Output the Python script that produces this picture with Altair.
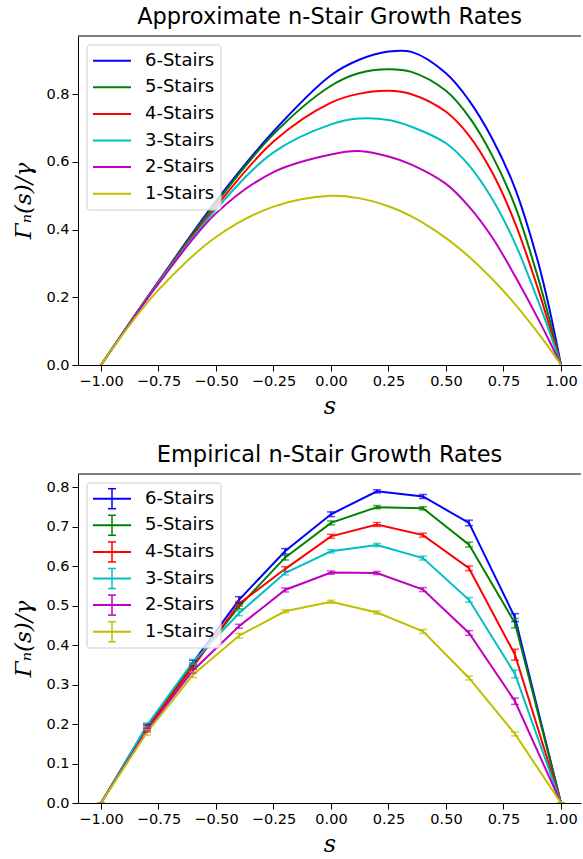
import altair as alt
import pandas as pd

# ---------------- data ----------------
labels = ["6-Stairs", "5-Stairs", "4-Stairs", "3-Stairs", "2-Stairs", "1-Stairs"]
colors = ["#0000ff", "#008000", "#ff0000", "#00bfbf", "#bf00bf", "#bfbf00"]

# Approximate growth rates
s_approx = [-1.0, -0.9, -0.75, -0.5, -0.25, 0.0, 0.12, 0.25, 0.35, 0.5, 0.6, 0.7, 0.8, 0.9, 0.95, 1.0]
approx_6 = [0, 0.100, 0.247, 0.484, 0.690, 0.856, 0.901, 0.926, 0.925, 0.862, 0.782, 0.670, 0.522, 0.305, 0.165, 0]
approx_5 = [0, 0.100, 0.246, 0.478, 0.682, 0.825, 0.862, 0.874, 0.866, 0.810, 0.733, 0.620, 0.470, 0.258, 0.135, 0]
approx_4 = [0, 0.099, 0.245, 0.468, 0.660, 0.775, 0.801, 0.810, 0.800, 0.748, 0.678, 0.570, 0.420, 0.225, 0.115, 0]
approx_3 = [0, 0.099, 0.243, 0.460, 0.628, 0.711, 0.728, 0.724, 0.704, 0.655, 0.590, 0.492, 0.360, 0.190, 0.098, 0]
approx_2 = [0, 0.098, 0.240, 0.448, 0.570, 0.622, 0.632, 0.616, 0.592, 0.535, 0.468, 0.378, 0.263, 0.137, 0.070, 0]
approx_1 = [0, 0.096, 0.222, 0.378, 0.468, 0.500, 0.493, 0.469, 0.439, 0.375, 0.320, 0.255, 0.180, 0.095, 0.049, 0]

# Empirical growth rates with error bars
s_emp = [-1.0, -0.8, -0.6, -0.4, -0.2, 0.0, 0.2, 0.4, 0.6, 0.8, 1.0]
emp_6 = [0, 0.194, 0.356, 0.515, 0.638, 0.732, 0.790, 0.777, 0.710, 0.470, 0]
emp_5 = [0, 0.192, 0.350, 0.498, 0.622, 0.710, 0.750, 0.747, 0.655, 0.456, 0]
emp_4 = [0, 0.190, 0.345, 0.505, 0.593, 0.676, 0.706, 0.679, 0.595, 0.376, 0]
emp_3 = [0, 0.197, 0.358, 0.481, 0.583, 0.638, 0.654, 0.621, 0.515, 0.327, 0]
emp_2 = [0, 0.185, 0.336, 0.448, 0.540, 0.584, 0.583, 0.541, 0.431, 0.258, 0]
emp_1 = [0, 0.179, 0.325, 0.424, 0.486, 0.510, 0.483, 0.435, 0.317, 0.175, 0]
err_6 = [0, 0.006, 0.006, 0.008, 0.007, 0.006, 0.004, 0.005, 0.007, 0.010, 0]
err_5 = [0, 0.005, 0.005, 0.006, 0.006, 0.005, 0.004, 0.004, 0.006, 0.012, 0]
err_4 = [0, 0.006, 0.006, 0.006, 0.006, 0.005, 0.005, 0.005, 0.006, 0.014, 0]
err_3 = [0, 0.006, 0.006, 0.006, 0.005, 0.004, 0.004, 0.005, 0.006, 0.010, 0]
err_2 = [0, 0.005, 0.006, 0.005, 0.005, 0.004, 0.004, 0.005, 0.006, 0.008, 0]
err_1 = [0, 0.007, 0.007, 0.006, 0.004, 0.004, 0.004, 0.005, 0.005, 0.005, 0]

x_ticks = [-1.0, -0.75, -0.5, -0.25, 0.0, 0.25, 0.5, 0.75, 1.0]
y_ticks_top = [0.0, 0.2, 0.4, 0.6, 0.8]
y_ticks_bot = [0.0, 0.1, 0.2, 0.3, 0.4, 0.5, 0.6, 0.7, 0.8]

# ---------------- tables ----------------
approx_series = [approx_6, approx_5, approx_4, approx_3, approx_2, approx_1]
emp_series = [emp_6, emp_5, emp_4, emp_3, emp_2, emp_1]
err_series = [err_6, err_5, err_4, err_3, err_2, err_1]

rows = []
for lab, vals in zip(labels, approx_series):
    for s, v in zip(s_approx, vals):
        rows.append({"series": lab, "s": s, "v": v})
df_approx = pd.DataFrame(rows)

rows, caps = [], []
for lab, vals, errs in zip(labels, emp_series, err_series):
    for s, v, e in zip(s_emp, vals, errs):
        rows.append({"series": lab, "s": s, "v": v, "lo": v - e, "hi": v + e})
        caps.append({"series": lab, "s": s, "c": v - e})
        caps.append({"series": lab, "s": s, "c": v + e})
df_emp = pd.DataFrame(rows)
df_caps = pd.DataFrame(caps)

W, H = 503, 329
FONT = "DejaVu Sans"
color = alt.Color("series:N", scale=alt.Scale(domain=labels, range=colors), legend=None)
xscale = alt.Scale(domain=[-1.1, 1.087], nice=False, zero=False)


def x_axis():
    return alt.Axis(values=x_ticks, format=".2f", title="s", titleFont="DejaVu Serif",
                    titleFontStyle="italic", titleFontWeight="normal", titleFontSize=24,
                    titlePadding=7, labelFontSize=14.5, labelPadding=3, tickSize=6,
                    labelFlush=False, grid=False)


def y_axis(vals):
    return alt.Axis(values=vals, format=".1f", title="Γₙ(s)/γ", titleFont="DejaVu Serif",
                    titleFontStyle="italic", titleFontWeight="normal", titleFontSize=23,
                    titlePadding=10, labelFontSize=14.5, labelPadding=3, tickSize=6,
                    grid=False)


one = pd.DataFrame({"k": [0]})
border = alt.Chart(one).mark_rule(color="black", strokeWidth=1).encode(
    x=alt.value(0), x2=alt.value(W), y=alt.value(0))

leg_df = pd.DataFrame({"label": labels, "color": colors, "row": list(range(6))})
leg_df["py"] = 24.7 + leg_df["row"] * 26.6
leg_df["plo"] = leg_df["py"] - 10
leg_df["phi"] = leg_df["py"] + 10

legend_box = alt.Chart(one).mark_rect(fill="white", fillOpacity=0.8, stroke="#cccccc",
                                      strokeWidth=1, cornerRadius=3).encode(
    x=alt.value(9), x2=alt.value(143), y=alt.value(9), y2=alt.value(174))
legend_lines = alt.Chart(leg_df).mark_rule(strokeWidth=2).encode(
    x=alt.value(15), x2=alt.value(53), y=alt.Y("py:Q", scale=None),
    color=alt.Color("color:N", scale=None))
legend_text = alt.Chart(leg_df).mark_text(align="left", baseline="middle", fontSize=18,
                                          font=FONT, color="black").encode(
    x=alt.value(67), y=alt.Y("py:Q", scale=None), text="label:N")
legend_vbar = alt.Chart(leg_df).mark_rule(strokeWidth=1.5).encode(
    x=alt.value(34), y=alt.Y("plo:Q", scale=None), y2="phi:Q",
    color=alt.Color("color:N", scale=None))
legend_cap_lo = alt.Chart(leg_df).mark_rule(strokeWidth=1.5).encode(
    x=alt.value(30), x2=alt.value(38), y=alt.Y("plo:Q", scale=None),
    color=alt.Color("color:N", scale=None))
legend_cap_hi = alt.Chart(leg_df).mark_rule(strokeWidth=1.5).encode(
    x=alt.value(30), x2=alt.value(38), y=alt.Y("phi:Q", scale=None),
    color=alt.Color("color:N", scale=None))

# ---------------- top panel ----------------
top_lines = alt.Chart(df_approx).mark_line(strokeWidth=2, interpolate="catmull-rom", clip=True).encode(
    x=alt.X("s:Q", scale=xscale, axis=x_axis()),
    y=alt.Y("v:Q", scale=alt.Scale(domain=[0, 0.972], nice=False, zero=False), axis=y_axis(y_ticks_top)),
    color=color,
    detail="series:N",
)
top = alt.layer(top_lines, border, legend_box, legend_lines, legend_text).properties(
    width=W, height=H,
    title=alt.TitleParams("Approximate n-Stair Growth Rates", fontSize=22.5, font=FONT,
                          fontWeight="normal", color="black", anchor="middle", offset=7),
)

# ---------------- bottom panel ----------------
yscale_b = alt.Scale(domain=[0, 0.834], nice=False, zero=False)
bot_lines = alt.Chart(df_emp).mark_line(strokeWidth=2, clip=True).encode(
    x=alt.X("s:Q", scale=xscale, axis=x_axis()),
    y=alt.Y("v:Q", scale=yscale_b, axis=y_axis(y_ticks_bot)),
    color=color,
    detail="series:N",
)
bot_bars = alt.Chart(df_emp).mark_rule(strokeWidth=1.5, clip=True).encode(
    x=alt.X("s:Q", scale=xscale),
    y=alt.Y("lo:Q", scale=yscale_b),
    y2="hi:Q",
    color=color,
)
bot_caps = alt.Chart(df_caps).mark_tick(thickness=1.5, size=8, orient="horizontal", clip=True).encode(
    x=alt.X("s:Q", scale=xscale),
    y=alt.Y("c:Q", scale=yscale_b),
    color=color,
)
bot = alt.layer(bot_lines, bot_bars, bot_caps, border, legend_box, legend_lines,
                legend_vbar, legend_cap_lo, legend_cap_hi, legend_text).properties(
    width=W, height=H,
    title=alt.TitleParams("Empirical n-Stair Growth Rates", fontSize=22.5, font=FONT,
                          fontWeight="normal", color="black", anchor="middle", offset=7),
)

chart = alt.vconcat(top, bot, spacing=109, bounds="flush").properties(
    padding={"left": 12, "top": 6, "right": 0, "bottom": 0},
    background="white",
).configure(font=FONT).configure_view(stroke=None).configure_axis(
    domainColor="black", domainWidth=1, tickColor="black", tickWidth=1,
    labelColor="black", titleColor="black", labelFont=FONT,
)

chart.save("out.html", embed_options={"renderer": "svg", "actions": False})
